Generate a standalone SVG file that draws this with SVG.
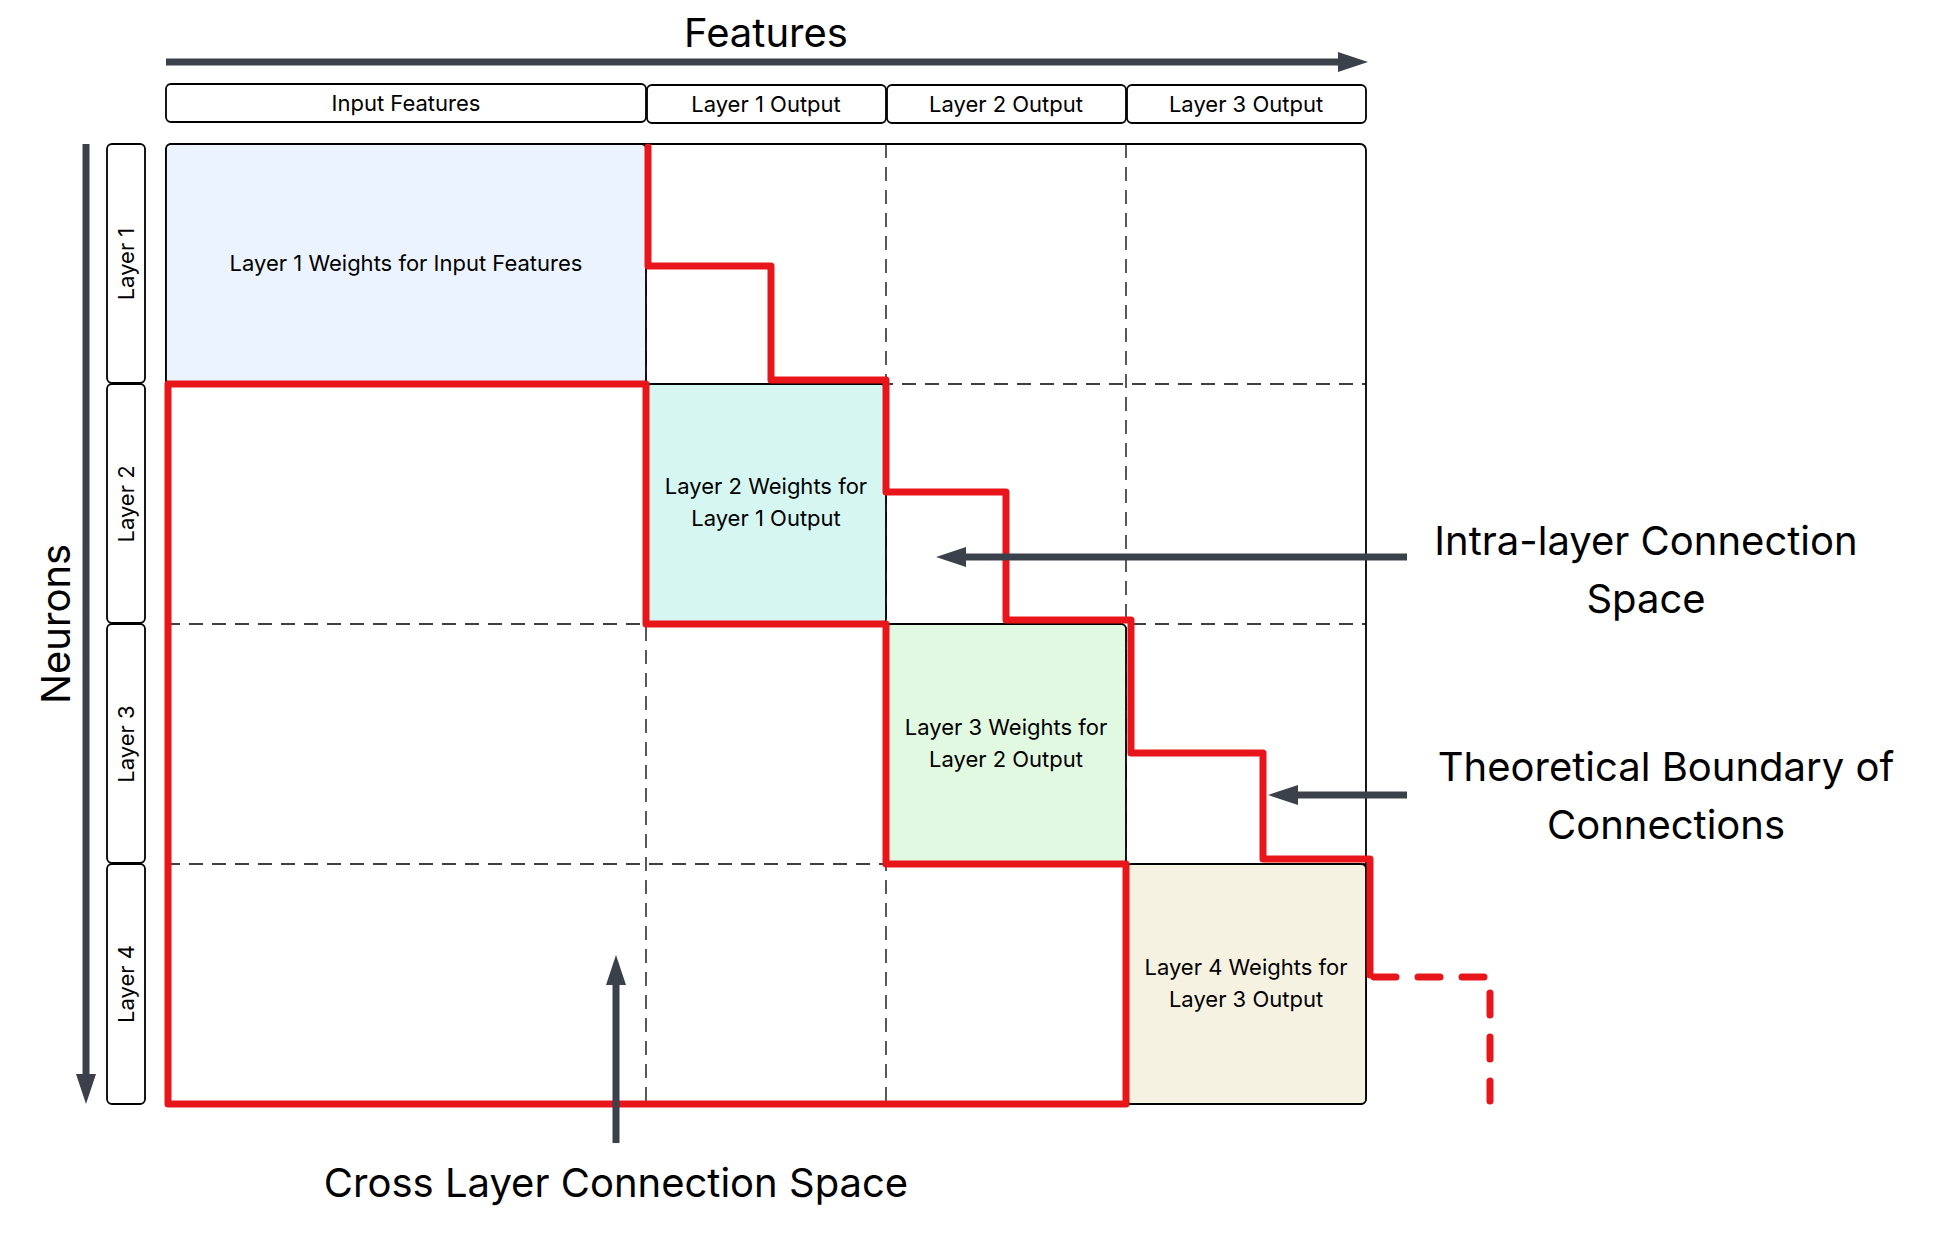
<svg xmlns="http://www.w3.org/2000/svg" width="1958" height="1243" viewBox="0 0 1958 1243">
<style>
  text { font-family: Inter, "Noto Sans", "Liberation Sans", sans-serif; fill: #000; }
  .big { font-size: 40px; }
  .hdr { font-size: 22px; }
  .blk { font-size: 22px; }
  .box { fill: #fff; stroke: #000; stroke-width: 1.8; }
  .dash { stroke: #000; stroke-width: 1.3; stroke-dasharray: 14 9; fill: none; }
  .red { stroke: #E8161A; stroke-width: 7; fill: none; stroke-linecap: round; stroke-linejoin: round; }
  .reddash { stroke: #E8161A; stroke-width: 7; fill: none; stroke-linecap: round; stroke-dasharray: 22 22; }
  .arr { stroke: #3B414A; stroke-width: 7; fill: none; }
</style>
<defs>
  <marker id="ah" markerUnits="userSpaceOnUse" markerWidth="30" markerHeight="22" viewBox="0 0 30 22" refX="2" refY="11" orient="auto">
    <path d="M0,1 L30,11 L0,21 z" fill="#3B414A"/>
  </marker>
</defs>
<rect width="1958" height="1243" fill="#fff"/>

<!-- titles -->
<text class="big" x="766" y="47" text-anchor="middle">Features</text>
<text class="big" x="0" y="0" text-anchor="middle" transform="translate(70,624) rotate(-90)">Neurons</text>

<!-- column headers -->
<g id="col-input"><rect class="box" x="166" y="84" width="480" height="38" rx="5"/><text class="hdr" x="406" y="111" text-anchor="middle">Input Features</text></g>
<g id="col-l1"><rect class="box" x="647" y="85" width="239" height="38" rx="5"/><text class="hdr" x="766" y="112" text-anchor="middle">Layer 1 Output</text></g>
<g id="col-l2"><rect class="box" x="887" y="85" width="239" height="38" rx="5"/><text class="hdr" x="1006" y="112" text-anchor="middle">Layer 2 Output</text></g>
<g id="col-l3"><rect class="box" x="1127" y="85" width="239" height="38" rx="5"/><text class="hdr" x="1246" y="112" text-anchor="middle">Layer 3 Output</text></g>

<!-- row headers -->
<g id="row-l1"><rect class="box" x="107" y="144" width="38" height="239" rx="5"/><text class="hdr" text-anchor="middle" transform="translate(134,264) rotate(-90)">Layer 1</text></g>
<g id="row-l2"><rect class="box" x="107" y="384" width="38" height="239" rx="5"/><text class="hdr" text-anchor="middle" transform="translate(134,504) rotate(-90)">Layer 2</text></g>
<g id="row-l3"><rect class="box" x="107" y="624" width="38" height="239" rx="5"/><text class="hdr" text-anchor="middle" transform="translate(134,744) rotate(-90)">Layer 3</text></g>
<g id="row-l4"><rect class="box" x="107" y="864" width="38" height="240" rx="5"/><text class="hdr" text-anchor="middle" transform="translate(134,984) rotate(-90)">Layer 4</text></g>

<!-- grid -->
<g id="grid">
  <rect class="box" x="166" y="144" width="1200" height="960" rx="6"/>
  <line class="dash" x1="646" y1="144" x2="646" y2="1104"/>
  <line class="dash" x1="886" y1="144" x2="886" y2="1104"/>
  <line class="dash" x1="1126" y1="144" x2="1126" y2="1104"/>
  <line class="dash" x1="166" y1="384" x2="1366" y2="384"/>
  <line class="dash" x1="166" y1="624" x2="1366" y2="624"/>
  <line class="dash" x1="166" y1="864" x2="1366" y2="864"/>
</g>

<!-- weight blocks -->
<g id="block-l1"><rect x="166" y="144" width="480" height="240" rx="5" fill="#EBF4FE" stroke="#000" stroke-width="1.8"/><text class="blk" x="406" y="271" text-anchor="middle">Layer 1 Weights for Input Features</text></g>
<g id="block-l2"><rect x="646" y="384" width="240" height="240" rx="5" fill="#D6F7F1" stroke="#000" stroke-width="1.8"/><text class="blk" x="766" y="494" text-anchor="middle">Layer 2 Weights for</text><text class="blk" x="766" y="526" text-anchor="middle">Layer 1 Output</text></g>
<g id="block-l3"><rect x="886" y="624" width="240" height="240" rx="5" fill="#E1F8E1" stroke="#000" stroke-width="1.8"/><text class="blk" x="1006" y="735" text-anchor="middle">Layer 3 Weights for</text><text class="blk" x="1006" y="767" text-anchor="middle">Layer 2 Output</text></g>
<g id="block-l4"><rect x="1126" y="864" width="240" height="240" rx="5" fill="#F6F2E2" stroke="#000" stroke-width="1.8"/><text class="blk" x="1246" y="975" text-anchor="middle">Layer 4 Weights for</text><text class="blk" x="1246" y="1007" text-anchor="middle">Layer 3 Output</text></g>

<!-- boundaries and arrows -->
<g id="connectors">
  <path class="red" d="M168,384 H646 V624 H886 V864 H1126 V1104 H168 Z"/>
  <path class="red" d="M648,147 V266 H771 V380 H886 V492 H1006 V620 H1131 V753 H1263 V859 H1370 V975"/>
  <path class="reddash" d="M1374,977 H1490 V1101"/>
  <line class="arr" x1="166" y1="62" x2="1340" y2="62" marker-end="url(#ah)"/>
  <line class="arr" x1="86" y1="144" x2="86" y2="1076" marker-end="url(#ah)"/>
  <line class="arr" x1="1407" y1="557" x2="964" y2="557" marker-end="url(#ah)"/>
  <line class="arr" x1="1407" y1="795" x2="1296" y2="795" marker-end="url(#ah)"/>
  <line class="arr" x1="616" y1="1143" x2="616" y2="983" marker-end="url(#ah)"/>
</g>

<!-- annotations -->
<text class="big" x="1646" y="555" text-anchor="middle">Intra-layer Connection</text>
<text class="big" x="1646" y="613" text-anchor="middle">Space</text>
<text class="big" x="1666" y="781" text-anchor="middle">Theoretical Boundary of</text>
<text class="big" x="1666" y="839" text-anchor="middle">Connections</text>
<text class="big" x="616" y="1197" text-anchor="middle">Cross Layer Connection Space</text>
</svg>
